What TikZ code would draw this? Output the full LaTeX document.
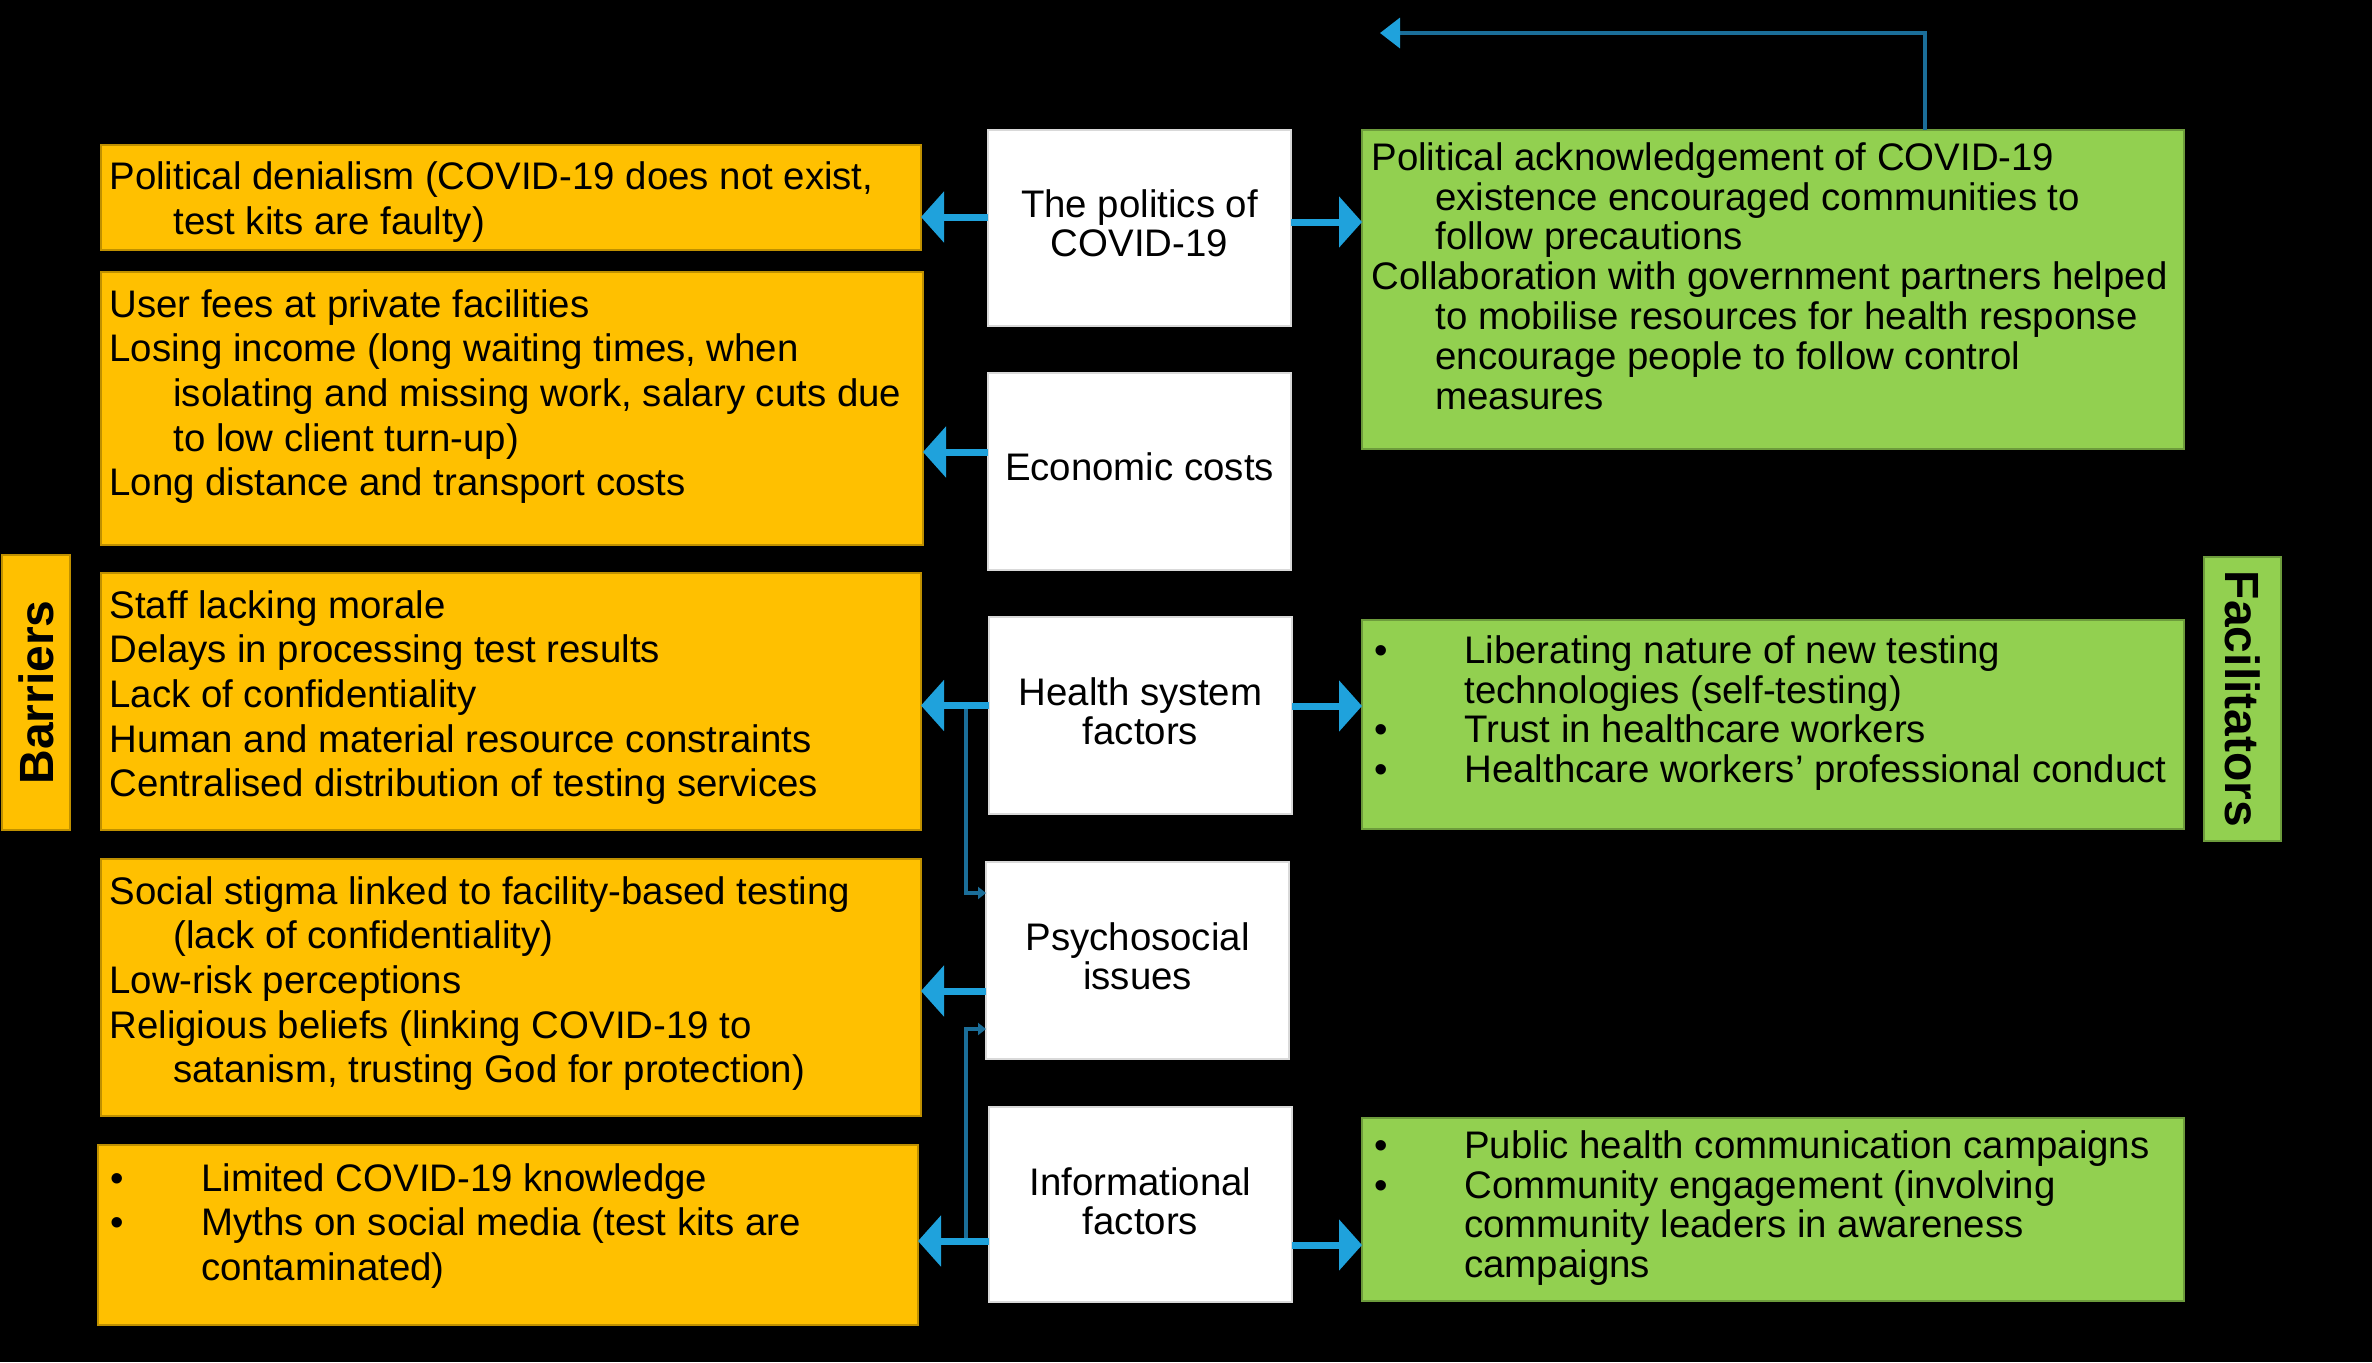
\documentclass[tikz,border=0pt]{standalone}
\usepackage{fontspec}
\setmainfont{Liberation Sans}
\usetikzlibrary{arrows.meta,calc}
\definecolor{obox}{HTML}{FFC000}
\definecolor{gbox}{HTML}{92D050}
\definecolor{arr}{HTML}{1FA2DC}
\definecolor{thinarr}{HTML}{1B6E99}
\begin{document}
\begin{tikzpicture}[x=0.5pt,y=-0.5pt,
  obx/.style={fill=obox, draw=obox!75!black, line width=0.6pt, inner sep=0, outer sep=0, anchor=north west},
  gbx/.style={fill=gbox, draw=gbox!75!black, line width=0.6pt, inner sep=0, outer sep=0, anchor=north west},
  wbx/.style={fill=white, draw=white!85!black, line width=0.6pt, inner sep=0, outer sep=0, anchor=north west,
     minimum width=151.5pt},
  wtext/.style={inner sep=0, align=center, text=black, font=\fontsize{19.2pt}{19.7pt}\selectfont},
  otext/.style={anchor=north west, inner sep=0, align=left, text=black, font=\fontsize{19.2pt}{22.3pt}\selectfont},
  gtext/.style={anchor=north west, inner sep=0, align=left, text=black, font=\fontsize{19.2pt}{19.9pt}\selectfont},
  bigarrow/.style={draw=arr, line width=3.5pt, -{Triangle[length=11.5pt,width=25pt]}},
  smallarrow/.style={draw=thinarr, line width=1.8pt, -{Triangle[length=4pt,width=6pt]}},
  toparrow/.style={draw=thinarr, line width=1.8pt, -{Triangle[length=10pt,width=15pt,color=arr]}},
  sidelabel/.style={inner sep=0, font=\fontsize{24pt}{24pt}\selectfont\bfseries, text=black}
]
\fill[black] (0,0) rectangle (2372,1362);
\useasboundingbox (0,0) rectangle (2372,1362);

% side labels
\node[obx, minimum width=34pt, minimum height=137.5pt] (BAR) at (2,555) {};
\node[sidelabel, rotate=90] (BARt) at (BAR.center) {Barriers};
\node[gbx, minimum width=38.5pt, minimum height=142pt] (FAC) at (2204,557) {};
\node[sidelabel, rotate=-90] (FACt) at (FAC.center) {Facilitators};

% orange boxes
\node[obx, minimum width=410pt, minimum height=52.5pt] (O1) at (101,145) {};
\node[obx, minimum width=411pt, minimum height=136.5pt] (O2) at (101,272) {};
\node[obx, minimum width=410pt, minimum height=128.5pt] (O3) at (101,573) {};
\node[obx, minimum width=410pt, minimum height=128.5pt] (O4) at (101,859) {};
\node[obx, minimum width=410pt, minimum height=90pt] (O5) at (98,1145) {};

\node[otext] (O1t) at ([xshift=4pt,yshift=-8.25pt]O1.north west)
 {Political denialism (COVID-19 does not exist,\\
  \hspace*{32pt}test kits are faulty)};
\node[otext] (O2t) at ([xshift=4pt,yshift=-8.5pt]O2.north west)
 {User fees at private facilities\\
  Losing income (long waiting times, when\\
  \hspace*{32pt}isolating and missing work, salary cuts due\\
  \hspace*{32pt}to low client turn-up)\\
  Long distance and transport costs};
\node[otext] (O3t) at ([xshift=4pt,yshift=-8.5pt]O3.north west)
 {Staff lacking morale\\
  Delays in processing test results\\
  Lack of confidentiality\\
  Human and material resource constraints\\
  Centralised distribution of testing services};
\node[otext] (O4t) at ([xshift=4pt,yshift=-8.5pt]O4.north west)
 {Social stigma linked to facility-based testing\\
  \hspace*{32pt}(lack of confidentiality)\\
  Low-risk perceptions\\
  Religious beliefs (linking COVID-19 to\\
  \hspace*{32pt}satanism, trusting God for protection)};
\node[otext] (O5t) at ([xshift=6pt,yshift=-9pt]O5.north west)
 {\makebox[45.5pt][l]{\textbullet}Limited COVID-19 knowledge\\
  \makebox[45.5pt][l]{\textbullet}Myths on social media (test kits are\\
  \hspace*{45.5pt}contaminated)};

% white boxes
\node[wbx, minimum height=98pt] (W1) at (988,130) {};
\node[wbx, minimum height=98.5pt] (W2) at (988,373) {};
\node[wbx, minimum height=98.5pt] (W3) at (989,617) {};
\node[wbx, minimum height=98.5pt] (W4) at (986,862) {};
\node[wbx, minimum height=97.5pt] (W5) at (989,1107) {};
\node[wtext] (W1t) at ([yshift=2.25pt]W1.center) {The politics of\\COVID-19};
\node[wtext] (W2t) at ([yshift=2.25pt]W2.center) {Economic costs};
\node[wtext] (W3t) at ([yshift=2.25pt]W3.center) {Health system\\factors};
\node[wtext] (W4t) at ([yshift=2.25pt]W4.center) {Psychosocial\\issues};
\node[wtext] (W5t) at ([yshift=1.5pt]W5.center) {Informational\\factors};

% green boxes
\node[gbx, minimum width=411pt, minimum height=159.5pt] (G1) at (1362,130) {};
\node[gbx, minimum width=411pt, minimum height=104.5pt] (G2) at (1362,620) {};
\node[gbx, minimum width=411pt, minimum height=91.5pt] (G3) at (1362,1118) {};

\node[gtext] (G1t) at ([xshift=4.5pt,yshift=-6pt]G1.north west)
 {Political acknowledgement of COVID-19\\
  \hspace*{32pt}existence encouraged communities to\\
  \hspace*{32pt}follow precautions\\
  Collaboration with government partners helped\\
  \hspace*{32pt}to mobilise resources for health response\\
  \hspace*{32pt}encourage people to follow control\\
  \hspace*{32pt}measures};
\node[gtext] (G2t) at ([xshift=6pt,yshift=-7.5pt]G2.north west)
 {\makebox[45pt][l]{\textbullet}Liberating nature of new testing\\
  \hspace*{45pt}technologies (self-testing)\\
  \makebox[45pt][l]{\textbullet}Trust in healthcare workers\\
  \makebox[45pt][l]{\textbullet}Healthcare workers’ professional conduct};
\node[gtext] (G3t) at ([xshift=6pt,yshift=-6pt]G3.north west)
 {\makebox[45pt][l]{\textbullet}Public health communication campaigns\\
  \makebox[45pt][l]{\textbullet}Community engagement (involving\\
  \hspace*{45pt}community leaders in awareness\\
  \hspace*{45pt}campaigns};

% arrow start points
\coordinate (a1) at ([yshift=5.5pt]W1.west);
\coordinate (a2) at ([yshift=9.75pt]W2.west);
\coordinate (a3) at ([yshift=5pt]W3.west);
\coordinate (a4) at ([yshift=-15.25pt]W4.west);
\coordinate (a5) at ([yshift=-18.25pt]W5.west);
\coordinate (r1) at ([yshift=3pt]W1.east);
\coordinate (r3) at ([yshift=4.75pt]W3.east);
\coordinate (r5) at ([yshift=-20.25pt]W5.east);

% branch connectors to psychosocial box
\coordinate (j1) at ($(a3)+(-11.5pt,0)$);
\coordinate (j2) at ($(a5)+(-11.5pt,0)$);
\draw[smallarrow] (j1) |- ([yshift=33.75pt]W4.west);
\draw[smallarrow] (j2) |- ([yshift=-34.25pt]W4.west);

\draw[bigarrow] (a1) -- (a1 -| O1.east);
\draw[bigarrow] (a2) -- (a2 -| O2.east);
\draw[bigarrow] (a3) -- (a3 -| O3.east);
\draw[bigarrow] (a4) -- (a4 -| O4.east);
\draw[bigarrow] (a5) -- (a5 -| O5.east);
\draw[bigarrow] (r1) -- (r1 -| G1.west);
\draw[bigarrow] (r3) -- (r3 -| G2.west);
\draw[bigarrow] (r5) -- (r5 -| G3.west);

% top feedback arrow
\coordinate (topend) at (1380,33);
\draw[toparrow] ([xshift=76pt]G1.north) |- (topend);
\end{tikzpicture}
\end{document}
